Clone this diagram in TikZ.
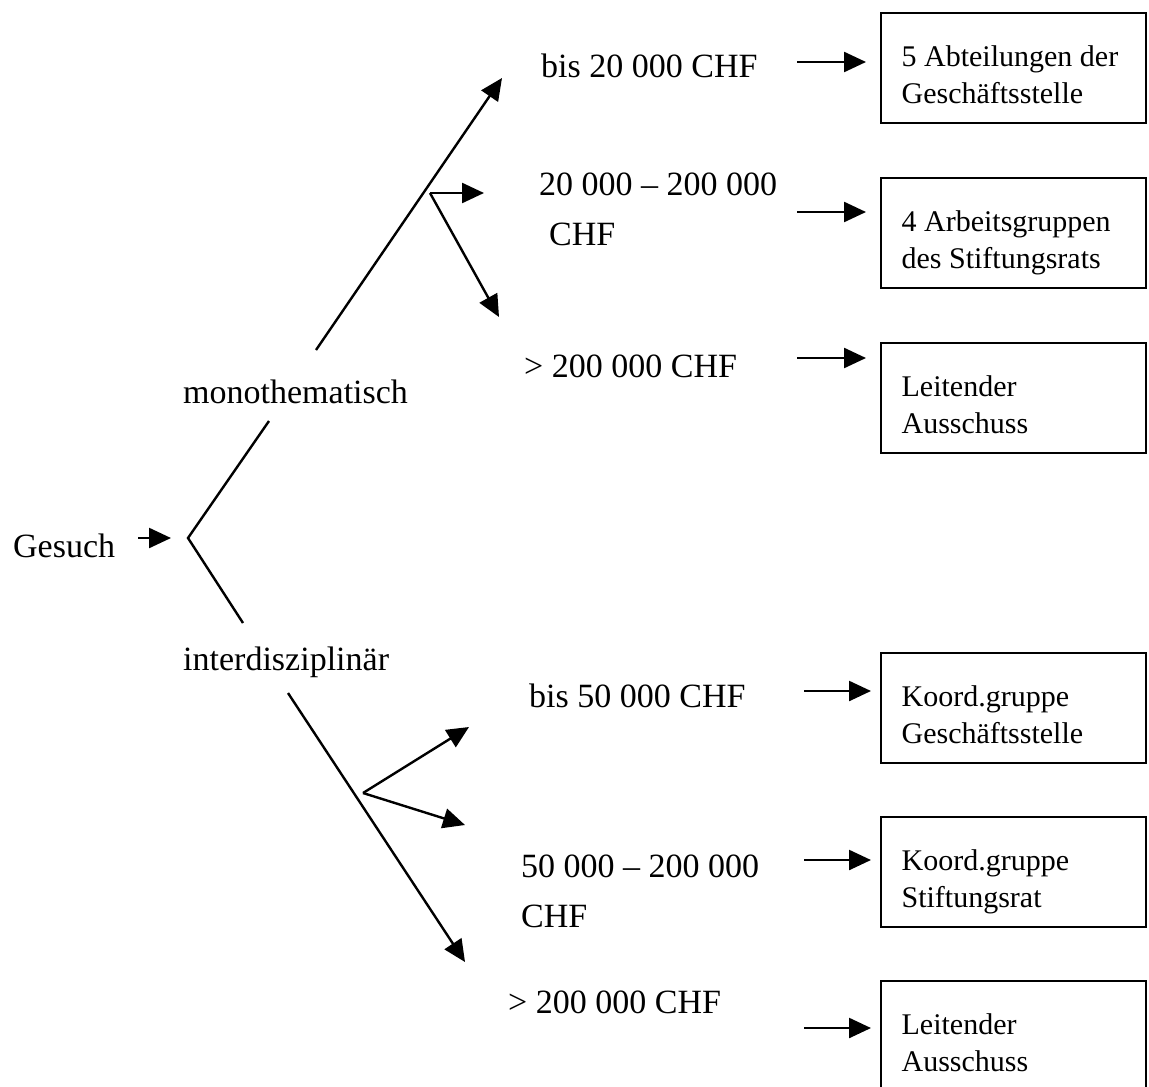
\documentclass[tikz,border=0pt]{standalone}
\usepackage{fontspec}
\setmainfont{Liberation Serif}
\usetikzlibrary{arrows.meta}
\tikzset{ lbl/.style = { anchor = base west % amount label
, inner sep = 0pt
, align = left
, font = \fontsize{17}{25}\selectfont
}
, bx/.style = { draw % deciding body
, line width = 1.1pt
, anchor = north west
, inner xsep = 10.25pt
, inner ysep = 0pt
, text width = 112pt
, align = left
, font = \fontsize{15}{18.5}\selectfont
}
}
\newcommand{\boxlines}[2]{\spaceskip=0pt\xspaceskip=0pt\rule{0pt}{26.5pt}#1\\#2\rule[-10pt]{0pt}{10pt}}

\begin{document}
\begin{tikzpicture}[x=0.5pt, y=-0.5pt, line width=1.2pt,
        edge_style/.style={draw=black, -{Triangle[length=11pt,width=10pt]}},
        line_style/.style={draw=black},
        to_box_style/.style={edge_style, shorten >=#1}]
        \path [use as bounding box, clip] (0,0) rectangle (1149,1086);

            \node [lbl](gesuch) at (12,557) {Gesuch};
            \node [lbl](mono) at (182,403) {monothematisch};
            \node [lbl](inter) at (182,670) {interdisziplinär};
            \node [lbl](m1) at (540,78) {bis 20 000 CHF};
            \node [lbl](m2) at (538,245) {20 000 – 200 000\\\hspace*{5pt}CHF};
            \node [lbl](m3) at (523,377) {> 200 000 CHF};
            \node [lbl](i1) at (528,707) {bis 50 000 CHF};
            \node [lbl](i2) at (520,927) {50 000 – 200 000\\CHF};
            \node [lbl](i3) at (507,1013) {> 200 000 CHF};

            \node [bx](b1) at (880,12) {\boxlines{5 Abteilungen der}{Geschäftsstelle}};
            \node [bx](b2) at (880,177) {\boxlines{4 Arbeitsgruppen}{des Stiftungsrats}};
            \node [bx](b3) at (880,342) {\boxlines{Leitender}{Ausschuss}};
            \node [bx](b4) at (880,652) {\boxlines{Koord.gruppe}{Geschäftsstelle}};
            \node [bx](b5) at (880,816) {\boxlines{Koord.gruppe}{Stiftungsrat}};
            \node [bx](b6) at (880,980) {\boxlines{Leitender}{Ausschuss}};

            % fork after the request
            \coordinate (g_end) at (138,538);
            \coordinate (g_tip) at (171,538);
            \coordinate (fork) at (188,538);
            \coordinate (mono_in) at (269,421);
            \coordinate (inter_in) at (243,623);
            \draw [edge_style] (g_end) -- (g_tip);
            \draw [line_style] (mono_in) -- (fork) -- (inter_in);

            % monothematic branch
            \coordinate (mono_out) at (316,350);
            \coordinate (m1_tip) at (502,78);
            \coordinate (mono_fork) at (430,193);
            \coordinate (m2_tip) at (484,193);
            \coordinate (m3_tip) at (499,317);
            \draw [edge_style] (mono_out) -- (m1_tip);
            \draw [edge_style] (mono_fork) -- (m2_tip);
            \draw [edge_style] (mono_fork) -- (m3_tip);

            % interdisciplinary branch
            \coordinate (inter_out) at (288,693);
            \coordinate (i3_tip) at (465,962);
            \coordinate (inter_fork) at (363,793);
            \coordinate (i1_tip) at (469,727);
            \coordinate (i2_tip) at (465,825);
            \draw [edge_style] (inter_out) -- (i3_tip);
            \draw [edge_style] (inter_fork) -- (i1_tip);
            \draw [edge_style] (inter_fork) -- (i2_tip);

            % amounts to bodies
            \coordinate (a1) at (797,62);
            \coordinate (a2) at (797,212);
            \coordinate (a3) at (797,358);
            \coordinate (a4) at (804,691);
            \coordinate (a5) at (804,860);
            \coordinate (a6) at (804,1028);
            \draw [to_box_style=7pt] (a1) -- (a1 -| b1.west);
            \draw [to_box_style=7pt] (a2) -- (a2 -| b2.west);
            \draw [to_box_style=7pt] (a3) -- (a3 -| b3.west);
            \draw [to_box_style=4.5pt] (a4) -- (a4 -| b4.west);
            \draw [to_box_style=4.5pt] (a5) -- (a5 -| b5.west);
            \draw [to_box_style=4.5pt] (a6) -- (a6 -| b6.west);

\end{tikzpicture}
\end{document}
